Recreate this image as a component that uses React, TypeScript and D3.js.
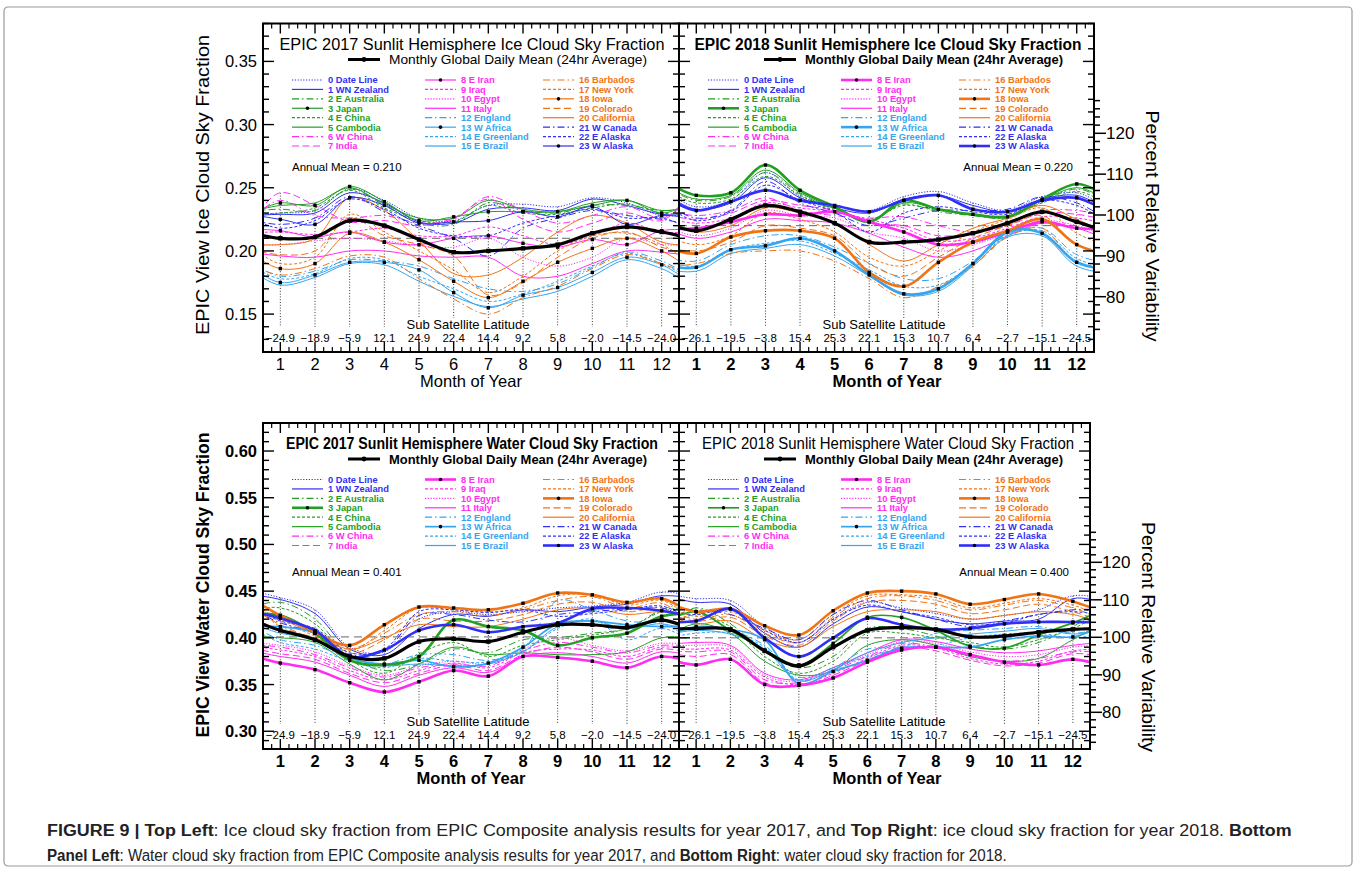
import React, { useLayoutEffect, useRef, useState } from 'react';
import * as d3 from 'd3';

// ---- data ----
const MONTHS = [1, 2, 3, 4, 5, 6, 7, 8, 9, 10, 11, 12];
const SITES = ['0 Date Line', '1 WN Zealand', '2 E Australia', '3 Japan', '4 E China', '5 Cambodia',
  '6 W China', '7 India', '8 E Iran', '9 Iraq', '10 Egypt', '11 Italy',
  '12 England', '13 W Africa', '14 E Greenland', '15 E Brazil', '16 Barbados', '17 New York',
  '18 Iowa', '19 Colorado', '20 California', '21 W Canada', '22 E Alaska', '23 W Alaska'];
const LAT_2017 = [-24.9, -18.9, -5.9, 12.1, 24.9, 22.4, 14.4, 9.2, 5.8, -2.0, -14.5, -24.0];
const LAT_2018 = [-26.1, -19.5, -3.8, 15.4, 25.3, 22.1, 15.3, 10.7, 6.4, -2.7, -15.1, -24.5];

const ICE_2017_ANNUAL = 0.210;
const ICE_2017_MEAN = [0.210, 0.211, 0.224, 0.220, 0.209, 0.199, 0.200, 0.202, 0.205, 0.214, 0.219, 0.215];
const ICE_2017 = [
  [0.230, 0.232, 0.249, 0.240, 0.226, 0.224, 0.236, 0.237, 0.235, 0.242, 0.238, 0.228],
  [0.229, 0.230, 0.246, 0.238, 0.223, 0.222, 0.233, 0.234, 0.232, 0.241, 0.236, 0.229],
  [0.233, 0.232, 0.249, 0.236, 0.222, 0.221, 0.238, 0.232, 0.230, 0.236, 0.236, 0.232],
  [0.238, 0.236, 0.251, 0.239, 0.224, 0.227, 0.231, 0.231, 0.231, 0.236, 0.240, 0.230],
  [0.230, 0.234, 0.248, 0.234, 0.224, 0.223, 0.236, 0.230, 0.229, 0.234, 0.237, 0.230],
  [0.236, 0.238, 0.250, 0.237, 0.226, 0.226, 0.240, 0.233, 0.231, 0.238, 0.240, 0.232],
  [0.240, 0.228, 0.226, 0.228, 0.222, 0.225, 0.243, 0.232, 0.222, 0.228, 0.235, 0.226],
  [0.246, 0.236, 0.223, 0.224, 0.220, 0.226, 0.241, 0.225, 0.215, 0.222, 0.230, 0.224],
  [0.216, 0.211, 0.215, 0.207, 0.205, 0.210, 0.212, 0.206, 0.203, 0.209, 0.205, 0.216],
  [0.215, 0.213, 0.215, 0.218, 0.212, 0.212, 0.219, 0.212, 0.205, 0.212, 0.222, 0.215],
  [0.205, 0.208, 0.210, 0.208, 0.204, 0.203, 0.210, 0.195, 0.188, 0.195, 0.210, 0.205],
  [0.196, 0.195, 0.200, 0.200, 0.196, 0.195, 0.195, 0.180, 0.180, 0.190, 0.200, 0.199],
  [0.180, 0.184, 0.193, 0.192, 0.188, 0.178, 0.170, 0.168, 0.174, 0.187, 0.199, 0.192],
  [0.175, 0.181, 0.191, 0.191, 0.185, 0.167, 0.155, 0.165, 0.171, 0.183, 0.195, 0.189],
  [0.178, 0.182, 0.194, 0.193, 0.180, 0.170, 0.160, 0.166, 0.176, 0.188, 0.198, 0.190],
  [0.173, 0.179, 0.190, 0.189, 0.176, 0.164, 0.156, 0.162, 0.168, 0.180, 0.193, 0.186],
  [0.181, 0.186, 0.196, 0.195, 0.178, 0.162, 0.150, 0.163, 0.172, 0.186, 0.197, 0.190],
  [0.190, 0.195, 0.229, 0.215, 0.200, 0.185, 0.167, 0.180, 0.200, 0.212, 0.214, 0.205],
  [0.186, 0.190, 0.214, 0.207, 0.193, 0.176, 0.163, 0.176, 0.191, 0.202, 0.210, 0.200],
  [0.197, 0.200, 0.226, 0.212, 0.205, 0.196, 0.165, 0.175, 0.195, 0.210, 0.215, 0.203],
  [0.205, 0.210, 0.242, 0.232, 0.208, 0.182, 0.181, 0.195, 0.215, 0.228, 0.222, 0.207],
  [0.221, 0.226, 0.243, 0.231, 0.220, 0.210, 0.196, 0.218, 0.226, 0.232, 0.228, 0.225],
  [0.218, 0.224, 0.241, 0.233, 0.218, 0.212, 0.212, 0.222, 0.228, 0.233, 0.226, 0.226],
  [0.225, 0.221, 0.242, 0.236, 0.222, 0.223, 0.224, 0.231, 0.227, 0.235, 0.221, 0.228],
];

const ICE_2018_ANNUAL = 0.220;
const ICE_2018_MEAN = [0.216, 0.225, 0.236, 0.231, 0.222, 0.207, 0.207, 0.209, 0.214, 0.222, 0.231, 0.223];
const ICE_2018 = [
  [0.235, 0.240, 0.262, 0.243, 0.236, 0.232, 0.243, 0.247, 0.238, 0.232, 0.243, 0.246],
  [0.233, 0.238, 0.258, 0.242, 0.234, 0.230, 0.241, 0.244, 0.236, 0.231, 0.241, 0.244],
  [0.240, 0.243, 0.262, 0.245, 0.233, 0.224, 0.237, 0.231, 0.228, 0.226, 0.239, 0.249],
  [0.244, 0.246, 0.268, 0.248, 0.235, 0.223, 0.240, 0.233, 0.229, 0.227, 0.241, 0.253],
  [0.238, 0.241, 0.259, 0.244, 0.232, 0.225, 0.236, 0.232, 0.229, 0.228, 0.238, 0.247],
  [0.241, 0.244, 0.264, 0.246, 0.234, 0.223, 0.238, 0.233, 0.228, 0.227, 0.240, 0.250],
  [0.228, 0.232, 0.242, 0.232, 0.228, 0.226, 0.227, 0.220, 0.215, 0.222, 0.232, 0.232],
  [0.225, 0.230, 0.240, 0.236, 0.232, 0.222, 0.220, 0.212, 0.214, 0.220, 0.230, 0.229],
  [0.218, 0.223, 0.229, 0.228, 0.231, 0.223, 0.215, 0.205, 0.207, 0.215, 0.223, 0.218],
  [0.222, 0.226, 0.238, 0.234, 0.231, 0.225, 0.218, 0.208, 0.210, 0.218, 0.227, 0.226],
  [0.212, 0.218, 0.232, 0.228, 0.226, 0.215, 0.210, 0.200, 0.205, 0.214, 0.224, 0.220],
  [0.210, 0.215, 0.225, 0.224, 0.222, 0.214, 0.203, 0.195, 0.200, 0.212, 0.222, 0.218],
  [0.192, 0.205, 0.212, 0.212, 0.203, 0.190, 0.178, 0.178, 0.192, 0.213, 0.218, 0.197],
  [0.187, 0.201, 0.204, 0.210, 0.200, 0.181, 0.166, 0.170, 0.190, 0.215, 0.214, 0.191],
  [0.188, 0.201, 0.206, 0.208, 0.198, 0.185, 0.172, 0.173, 0.190, 0.212, 0.216, 0.194],
  [0.184, 0.198, 0.202, 0.205, 0.196, 0.180, 0.165, 0.168, 0.188, 0.211, 0.212, 0.188],
  [0.190, 0.198, 0.200, 0.200, 0.192, 0.178, 0.163, 0.172, 0.188, 0.211, 0.218, 0.190],
  [0.205, 0.212, 0.230, 0.225, 0.215, 0.195, 0.188, 0.200, 0.215, 0.225, 0.234, 0.214],
  [0.198, 0.211, 0.216, 0.216, 0.210, 0.183, 0.172, 0.191, 0.207, 0.216, 0.225, 0.205],
  [0.200, 0.207, 0.220, 0.218, 0.212, 0.190, 0.180, 0.195, 0.210, 0.220, 0.228, 0.205],
  [0.215, 0.220, 0.234, 0.230, 0.222, 0.205, 0.192, 0.205, 0.218, 0.226, 0.236, 0.225],
  [0.226, 0.232, 0.255, 0.238, 0.230, 0.220, 0.226, 0.232, 0.232, 0.233, 0.243, 0.238],
  [0.224, 0.231, 0.252, 0.240, 0.231, 0.215, 0.230, 0.235, 0.231, 0.229, 0.240, 0.236],
  [0.232, 0.239, 0.248, 0.240, 0.236, 0.231, 0.240, 0.244, 0.233, 0.231, 0.240, 0.242],
];

const WATER_2017_ANNUAL = 0.401;
const WATER_2017_MEAN = [0.408, 0.398, 0.380, 0.378, 0.396, 0.399, 0.396, 0.406, 0.414, 0.414, 0.411, 0.419];
const WATER_2017 = [
  [0.443, 0.430, 0.390, 0.385, 0.420, 0.428, 0.425, 0.428, 0.432, 0.434, 0.438, 0.449],
  [0.441, 0.426, 0.388, 0.382, 0.410, 0.425, 0.423, 0.430, 0.428, 0.433, 0.436, 0.445],
  [0.438, 0.420, 0.380, 0.365, 0.372, 0.388, 0.384, 0.398, 0.400, 0.405, 0.410, 0.430],
  [0.424, 0.405, 0.376, 0.371, 0.380, 0.419, 0.412, 0.408, 0.392, 0.400, 0.405, 0.423],
  [0.432, 0.415, 0.377, 0.362, 0.383, 0.395, 0.380, 0.392, 0.398, 0.403, 0.410, 0.428],
  [0.400, 0.395, 0.372, 0.355, 0.372, 0.390, 0.382, 0.384, 0.382, 0.382, 0.385, 0.400],
  [0.390, 0.382, 0.368, 0.358, 0.368, 0.372, 0.370, 0.386, 0.395, 0.390, 0.384, 0.392],
  [0.383, 0.377, 0.362, 0.352, 0.362, 0.371, 0.365, 0.382, 0.390, 0.385, 0.377, 0.388],
  [0.373, 0.366, 0.352, 0.342, 0.353, 0.365, 0.359, 0.380, 0.379, 0.375, 0.368, 0.380],
  [0.387, 0.380, 0.365, 0.355, 0.365, 0.373, 0.368, 0.384, 0.388, 0.387, 0.380, 0.390],
  [0.392, 0.385, 0.370, 0.360, 0.370, 0.375, 0.372, 0.388, 0.400, 0.392, 0.386, 0.394],
  [0.380, 0.374, 0.360, 0.348, 0.360, 0.368, 0.363, 0.380, 0.384, 0.380, 0.373, 0.385],
  [0.398, 0.392, 0.378, 0.372, 0.382, 0.382, 0.376, 0.388, 0.440, 0.430, 0.418, 0.415],
  [0.412, 0.405, 0.379, 0.372, 0.376, 0.369, 0.373, 0.390, 0.415, 0.418, 0.414, 0.412],
  [0.395, 0.388, 0.375, 0.368, 0.378, 0.375, 0.374, 0.385, 0.410, 0.420, 0.398, 0.410],
  [0.405, 0.398, 0.376, 0.370, 0.372, 0.370, 0.372, 0.385, 0.412, 0.418, 0.410, 0.415],
  [0.412, 0.400, 0.388, 0.405, 0.425, 0.428, 0.424, 0.430, 0.440, 0.444, 0.432, 0.437],
  [0.418, 0.402, 0.386, 0.408, 0.432, 0.430, 0.428, 0.432, 0.445, 0.446, 0.435, 0.440],
  [0.424, 0.406, 0.392, 0.414, 0.433, 0.432, 0.430, 0.437, 0.448, 0.446, 0.438, 0.442],
  [0.414, 0.398, 0.383, 0.398, 0.420, 0.418, 0.418, 0.425, 0.436, 0.438, 0.428, 0.432],
  [0.420, 0.404, 0.388, 0.400, 0.414, 0.412, 0.412, 0.420, 0.430, 0.432, 0.425, 0.428],
  [0.416, 0.405, 0.382, 0.386, 0.424, 0.425, 0.419, 0.417, 0.425, 0.428, 0.431, 0.432],
  [0.418, 0.410, 0.384, 0.388, 0.428, 0.430, 0.427, 0.430, 0.423, 0.426, 0.430, 0.434],
  [0.421, 0.408, 0.380, 0.387, 0.408, 0.414, 0.406, 0.412, 0.416, 0.431, 0.432, 0.429],
];

const WATER_2018_ANNUAL = 0.400;
const WATER_2018_MEAN = [0.410, 0.409, 0.386, 0.370, 0.390, 0.408, 0.411, 0.409, 0.401, 0.402, 0.406, 0.409];
const WATER_2018 = [
  [0.442, 0.440, 0.412, 0.395, 0.420, 0.438, 0.432, 0.426, 0.420, 0.424, 0.430, 0.445],
  [0.438, 0.436, 0.405, 0.390, 0.415, 0.433, 0.428, 0.420, 0.415, 0.418, 0.420, 0.442],
  [0.432, 0.415, 0.385, 0.368, 0.380, 0.410, 0.410, 0.402, 0.392, 0.388, 0.395, 0.412],
  [0.428, 0.408, 0.387, 0.371, 0.394, 0.422, 0.422, 0.408, 0.391, 0.389, 0.403, 0.416],
  [0.425, 0.412, 0.380, 0.362, 0.375, 0.405, 0.405, 0.400, 0.395, 0.390, 0.398, 0.410],
  [0.415, 0.405, 0.375, 0.360, 0.365, 0.392, 0.398, 0.392, 0.380, 0.375, 0.378, 0.398],
  [0.385, 0.385, 0.355, 0.352, 0.365, 0.380, 0.394, 0.390, 0.380, 0.375, 0.378, 0.385],
  [0.380, 0.382, 0.352, 0.348, 0.360, 0.376, 0.390, 0.386, 0.376, 0.370, 0.373, 0.383],
  [0.371, 0.377, 0.350, 0.349, 0.357, 0.374, 0.387, 0.390, 0.382, 0.374, 0.371, 0.377],
  [0.388, 0.387, 0.358, 0.350, 0.362, 0.378, 0.392, 0.389, 0.378, 0.372, 0.375, 0.386],
  [0.392, 0.390, 0.360, 0.353, 0.366, 0.382, 0.396, 0.394, 0.385, 0.380, 0.382, 0.390],
  [0.395, 0.392, 0.362, 0.355, 0.368, 0.384, 0.398, 0.396, 0.388, 0.384, 0.386, 0.392],
  [0.410, 0.408, 0.392, 0.358, 0.368, 0.388, 0.390, 0.405, 0.408, 0.410, 0.412, 0.405],
  [0.412, 0.409, 0.398, 0.351, 0.364, 0.376, 0.389, 0.390, 0.390, 0.398, 0.402, 0.401],
  [0.405, 0.405, 0.390, 0.355, 0.368, 0.380, 0.388, 0.392, 0.400, 0.404, 0.405, 0.400],
  [0.408, 0.404, 0.388, 0.354, 0.366, 0.384, 0.395, 0.400, 0.404, 0.407, 0.410, 0.404],
  [0.420, 0.425, 0.405, 0.395, 0.422, 0.442, 0.445, 0.440, 0.430, 0.435, 0.440, 0.432],
  [0.423, 0.428, 0.408, 0.398, 0.425, 0.445, 0.446, 0.443, 0.432, 0.437, 0.442, 0.435],
  [0.428, 0.431, 0.413, 0.403, 0.429, 0.448, 0.450, 0.447, 0.436, 0.441, 0.447, 0.439],
  [0.418, 0.422, 0.402, 0.392, 0.418, 0.438, 0.440, 0.436, 0.426, 0.430, 0.436, 0.428],
  [0.415, 0.418, 0.398, 0.390, 0.412, 0.428, 0.430, 0.428, 0.420, 0.424, 0.428, 0.425],
  [0.430, 0.425, 0.410, 0.398, 0.425, 0.440, 0.430, 0.420, 0.412, 0.418, 0.425, 0.430],
  [0.425, 0.430, 0.408, 0.395, 0.420, 0.435, 0.428, 0.422, 0.414, 0.416, 0.425, 0.428],
  [0.418, 0.431, 0.400, 0.380, 0.400, 0.421, 0.414, 0.409, 0.410, 0.415, 0.417, 0.417],
];

// ---- styles ----
const BLUE = '#2f2ff5', GREEN = '#23a023', MAG = '#ff2cf2', LBLUE = '#35a5f0', ORANGE = '#f07416';
const COLORS = [BLUE, BLUE, GREEN, GREEN, GREEN, GREEN, MAG, MAG, MAG, MAG, MAG, MAG,
  LBLUE, LBLUE, LBLUE, LBLUE, ORANGE, ORANGE, ORANGE, ORANGE, ORANGE, BLUE, BLUE, BLUE];
const DOT = '1.2,1.6', DASH = '3,2', DDOT = '7,3,1.5,3', LONG = '7,3.5';
const DASHES = [DOT, '', DDOT, '', DASH, '', DDOT, LONG, '', DASH, DOT, '', DDOT, '', DASH, '',
  DDOT, DASH, '', LONG, '', DDOT, DASH, ''];
const MARKED = [3, 8, 13, 18, 23];
const FONT = 'Liberation Sans, Arial, Helvetica, sans-serif';

const PANELS = [
  { id: 'tl', x0: 263, x1: 679, y0: 23.5, y1: 352, dom: [0.12, 0.38], series: ICE_2017, mean: ICE_2017_MEAN,
    annual: ICE_2017_ANNUAL, lat: LAT_2017, title: 'EPIC 2017 Sunlit Hemisphere Ice Cloud Sky Fraction',
    titleBold: false, titleLen: 385, meanBold: false, axisBold: false, thick: [] as number[], medium: [] as number[],
    left: true, pct: null as null | { dom: number[]; rng: number[]; cy: number; len: number }, annualDy: 147 },
  { id: 'tr', x0: 679, x1: 1094, y0: 23.5, y1: 352, dom: [0.12, 0.38], series: ICE_2018, mean: ICE_2018_MEAN,
    annual: ICE_2018_ANNUAL, lat: LAT_2018, title: 'EPIC 2018 Sunlit Hemisphere Ice Cloud Sky Fraction',
    titleBold: true, titleLen: 387, meanBold: true, axisBold: true, thick: [3, 8, 13, 18, 23], medium: [] as number[],
    left: false, pct: { dom: [80, 120], rng: [296.7, 133.3], cy: 226, len: 231 }, annualDy: 147 },
  { id: 'bl', x0: 263, x1: 679, y0: 423, y1: 749, dom: [0.281, 0.63], series: WATER_2017, mean: WATER_2017_MEAN,
    annual: WATER_2017_ANNUAL, lat: LAT_2017, title: 'EPIC 2017 Sunlit Hemisphere Water Cloud Sky Fraction',
    titleBold: true, titleLen: 372, meanBold: true, axisBold: true, thick: [3, 8, 18, 23], medium: [13],
    left: true, pct: null, annualDy: 153 },
  { id: 'br', x0: 679, x1: 1090, y0: 423, y1: 749, dom: [0.281, 0.63], series: WATER_2018, mean: WATER_2018_MEAN,
    annual: WATER_2018_ANNUAL, lat: LAT_2018, title: 'EPIC 2018 Sunlit Hemisphere Water Cloud Sky Fraction',
    titleBold: false, titleLen: 372, meanBold: true, axisBold: true, thick: [8, 18, 23], medium: [3, 13],
    left: false, pct: { dom: [80, 120], rng: [712.3, 562.3], cy: 637, len: 230 }, annualDy: 153 },
];

type P = typeof PANELS[number];

const latText = (v: number) => v.toFixed(1).replace('-', '\u2212');

function Panel({ p }: { p: P }) {
  const x = d3.scaleLinear().domain([0.5, 12.5]).range([p.x0, p.x1]);
  const y = d3.scaleLinear().domain(p.dom).range([p.y1, p.y0]);
  const line = d3.line<number[]>().x(d => x(d[0])).y(d => y(d[1])).curve(d3.curveCatmullRom.alpha(0.5));
  const cyc = (v: number[]) => [[-1, v[10]], [0, v[11]], ...v.map((d, i) => [MONTHS[i], d]), [13, v[0]], [14, v[1]]];
  const width = (i: number) => (p.thick.includes(i) ? 2.6 : p.medium.includes(i) ? 1.7 : 1);
  const order = d3.range(24).sort((a, b) => width(a) - width(b));
  const clip = `clip-${p.id}`;
  const [d0, d1] = p.dom;
  const majY = d3.range(Math.ceil(d0 * 20), Math.floor(d1 * 20) + 1).map(k => k / 20);
  const minY = d3.range(Math.ceil(d0 * 100), Math.floor(d1 * 100) + 1).map(k => k / 100);
  const minX = d3.range(3, 50).map(k => k / 4).filter(k => k % 1 !== 0);
  const labelCx = p.x0 + 205;
  const w = (b: boolean) => (b ? 'bold' : 'normal');

  let pctEls: React.ReactNode = null;
  if (p.pct) {
    const r = d3.scaleLinear().domain(p.pct.dom).range(p.pct.rng);
    const ticks = d3.range(72, 130, 2).filter(t => r(t) > p.y0 + 2 && r(t) < p.y1 - 2);
    pctEls = (
      <g>
        {ticks.map(t => (
          <line key={t} x1={p.x1} x2={p.x1 + (t % 10 === 0 ? 12 : 6)} y1={r(t)} y2={r(t)} stroke="#000" strokeWidth={1.5} />
        ))}
        {ticks.filter(t => t % 10 === 0).map(t => (
          <text key={'l' + t} x={p.x1 + 12} y={r(t) + 6} fontSize={17} fontFamily={FONT}>{t}</text>
        ))}
        <text transform={`translate(${p.x1 + 52},${p.pct.cy}) rotate(90)`} textAnchor="middle" fontSize={19}
          fontFamily={FONT} textLength={p.pct.len} lengthAdjust="spacingAndGlyphs">Percent Relative Variability</text>
      </g>
    );
  }

  return (
    <g>
      <defs>
        <clipPath id={clip}><rect x={p.x0} y={p.y0} width={p.x1 - p.x0} height={p.y1 - p.y0} /></clipPath>
      </defs>
      {/* annual mean reference */}
      <line x1={p.x0} x2={p.x1} y1={y(p.annual)} y2={y(p.annual)} stroke="#666" strokeWidth={1} strokeDasharray="8,5" />
      {/* month verticals */}
      {MONTHS.map((m, i) => {
        const top = d3.max([...p.series.map(s => s[i]), p.mean[i]]) as number;
        const bottom = Math.abs(x(m) - labelCx) < 66 ? p.y1 - 34 : p.y1 - 25;
        return <line key={m} x1={x(m)} x2={x(m)} y1={y(top)} y2={bottom} stroke="#000" strokeWidth={0.8} strokeDasharray="1,1.8" />;
      })}
      <g clipPath={`url(#${clip})`}>
        {order.map(i => (
          <path key={i} d={line(cyc(p.series[i])) || ''} fill="none" stroke={COLORS[i]} strokeWidth={width(i)}
            strokeDasharray={DASHES[i] || undefined} />
        ))}
        <path d={line(cyc(p.mean)) || ''} fill="none" stroke="#000" strokeWidth={3.2} />
      </g>
      {MARKED.map(i => p.series[i].map((v, j) => (
        <rect key={`${i}-${j}`} x={x(MONTHS[j]) - 1.7} y={y(v) - 1.7} width={3.4} height={3.4} fill="#000" />
      )))}
      {p.mean.map((v, j) => (
        <rect key={'m' + j} x={x(MONTHS[j]) - 2.2} y={y(v) - 2.2} width={4.4} height={4.4} fill="#000" />
      ))}
      {/* frame */}
      <rect x={p.x0} y={p.y0} width={p.x1 - p.x0} height={p.y1 - p.y0} fill="none" stroke="#000" strokeWidth={2} />
      {/* y ticks on both sides */}
      {minY.map(v => {
        const L = majY.some(m => Math.abs(m - v) < 1e-9) ? 11 : 6;
        return (
          <g key={'y' + v}>
            <line x1={p.x0} x2={p.x0 + L} y1={y(v)} y2={y(v)} stroke="#000" strokeWidth={1.4} />
            <line x1={p.x1} x2={p.x1 - L} y1={y(v)} y2={y(v)} stroke="#000" strokeWidth={1.4} />
          </g>
        );
      })}
      {p.left && majY.map(v => (
        <text key={'yl' + v} x={p.x0 - 6} y={y(v) + 6} textAnchor="end" fontSize={16.5} fontFamily={FONT}
          fontWeight={w(p.axisBold)}>{d3.format('.2f')(v)}</text>
      ))}
      {/* x ticks top and bottom */}
      {MONTHS.map(m => (
        <g key={'x' + m}>
          <line x1={x(m)} x2={x(m)} y1={p.y1} y2={p.y1 - 10} stroke="#000" strokeWidth={1.4} />
          <line x1={x(m)} x2={x(m)} y1={p.y0} y2={p.y0 + 10} stroke="#000" strokeWidth={1.4} />
          <text x={x(m)} y={p.y1 + 18} textAnchor="middle" fontSize={16.5} fontFamily={FONT} fontWeight={w(p.axisBold)}>{m}</text>
        </g>
      ))}
      {minX.map(m => (
        <g key={'xm' + m}>
          <line x1={x(m)} x2={x(m)} y1={p.y1} y2={p.y1 - 5} stroke="#000" strokeWidth={1.2} />
          <line x1={x(m)} x2={x(m)} y1={p.y0} y2={p.y0 + 5} stroke="#000" strokeWidth={1.2} />
        </g>
      ))}
      <text x={p.x0 + 208} y={p.y1 + 35} textAnchor="middle" fontSize={16.5} fontFamily={FONT} fontWeight={w(p.axisBold)}>Month of Year</text>
      {/* sub satellite latitude */}
      <text x={labelCx} y={p.y1 - 23} textAnchor="middle" fontSize={13} fontFamily={FONT}>Sub Satellite Latitude</text>
      {p.lat.map((v, i) => (
        <text key={'lat' + i} x={x(MONTHS[i])} y={p.y1 - 10} textAnchor="middle" fontSize={11.5} fontFamily={FONT}>{latText(v)}</text>
      ))}
      {/* annual mean text */}
      <text x={p.left ? p.x0 + 29 : p.x1 - 21} y={p.y0 + p.annualDy} textAnchor={p.left ? 'start' : 'end'} fontSize={11.5}
        fontFamily={FONT}>{`Annual Mean  =  ${p.annual.toFixed(3)}`}</text>
      {/* title + legend */}
      <text x={p.x0 + 209} y={p.y0 + 26} textAnchor="middle" fontSize={16} fontFamily={FONT} fontWeight={w(p.titleBold)}
        textLength={p.titleLen} lengthAdjust="spacingAndGlyphs">{p.title}</text>
      <line x1={p.x0 + 85} x2={p.x0 + 117} y1={p.y0 + 36} y2={p.y0 + 36} stroke="#000" strokeWidth={3} />
      <circle cx={p.x0 + 101} cy={p.y0 + 36} r={2.4} fill="#000" />
      <text x={p.x0 + 126} y={p.y0 + 40.5} fontSize={13} fontFamily={FONT} fontWeight={w(p.meanBold)}
        textLength={258} lengthAdjust="spacingAndGlyphs">Monthly Global Daily Mean (24hr Average)</text>
      {SITES.map((name, i) => {
        const col = Math.floor(i / 8), row = i % 8;
        const lx = p.x0 + [29, 162, 280][col];
        const ly = p.y0 + 56.5 + row * 9.43;
        return (
          <g key={'lg' + i}>
            <line x1={lx} x2={lx + 31} y1={ly} y2={ly} stroke={COLORS[i]} strokeWidth={width(i) === 1 ? 1.2 : width(i)}
              strokeDasharray={DASHES[i] || undefined} />
            {MARKED.includes(i) && <circle cx={lx + 15.5} cy={ly} r={1.8} fill="#000" />}
            <text x={lx + 36} y={ly + 3.4} fontSize={9.3} fontWeight="bold" fontFamily={FONT} fill={COLORS[i]}>{name}</text>
          </g>
        );
      })}
      {pctEls}
    </g>
  );
}

// caption lines are condensed to the reference widths by measuring them once
function Caption() {
  const r1 = useRef<SVGTextElement>(null);
  const r2 = useRef<SVGTextElement>(null);
  const [sx, setSx] = useState([1, 1]);
  useLayoutEffect(() => {
    const w1 = r1.current ? r1.current.getComputedTextLength() : 1246;
    const w2 = r2.current ? r2.current.getComputedTextLength() : 960;
    setSx([1246 / w1, 960 / w2]);
  }, []);
  return (
    <g fontFamily="'Liberation Sans Narrow', 'Liberation Sans', Arial, sans-serif" fontSize={17} fill="#222">
      <text ref={r1} transform={`translate(47,836) scale(${sx[0]},1)`}>
        <tspan fontWeight="bold">FIGURE 9 | Top Left</tspan>: Ice cloud sky fraction from EPIC Composite analysis results for year 2017, and <tspan fontWeight="bold">Top Right</tspan>: ice cloud sky fraction for year 2018. <tspan fontWeight="bold">Bottom</tspan>
      </text>
      <text ref={r2} transform={`translate(47,861) scale(${sx[1]},1)`}>
        <tspan fontWeight="bold">Panel Left</tspan>: Water cloud sky fraction from EPIC Composite analysis results for year 2017, and <tspan fontWeight="bold">Bottom Right</tspan>: water cloud sky fraction for 2018.
      </text>
    </g>
  );
}

export default function App() {
  return (
    <div style={{ position: 'absolute', left: 0, top: 0, background: '#fff' }}>
      <svg width={1356} height={870} viewBox="0 0 1356 870" style={{ display: 'block' }}>
        <rect x={0} y={0} width={1356} height={870} fill="#fff" />
        <rect x={4} y={7} width={1348} height={859} rx={4} fill="none" stroke="#9a9a9a" strokeWidth={1.2} />
        {PANELS.map(p => <Panel key={p.id} p={p} />)}
        <text transform="translate(209,185) rotate(-90)" textAnchor="middle" fontSize={19} fontFamily={FONT}
          textLength={300} lengthAdjust="spacingAndGlyphs">EPIC View Ice Cloud Sky Fraction</text>
        <text transform="translate(209,585) rotate(-90)" textAnchor="middle" fontSize={19} fontWeight="bold" fontFamily={FONT}
          textLength={305} lengthAdjust="spacingAndGlyphs">EPIC View Water Cloud Sky Fraction</text>
        <Caption />
      </svg>
    </div>
  );
}
